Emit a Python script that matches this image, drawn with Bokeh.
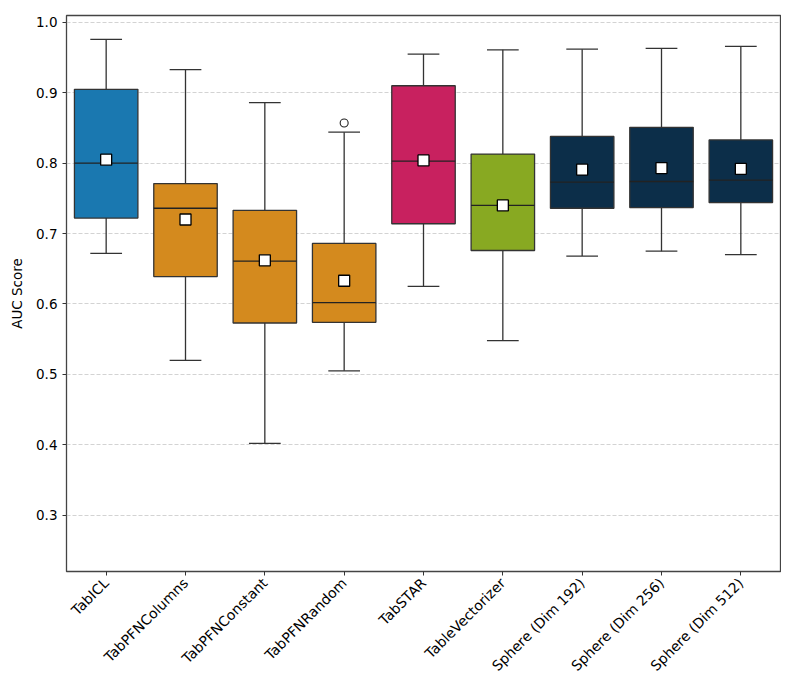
import math
from bokeh.plotting import figure
from bokeh.models import FixedTicker, ColumnDataSource
from bokeh.embed import file_html
from bokeh.resources import INLINE

categories = ["TabICL", "TabPFNColumns", "TabPFNConstant", "TabPFNRandom", "TabSTAR",
              "TableVectorizer", "Sphere (Dim 192)", "Sphere (Dim 256)", "Sphere (Dim 512)"]
lower = [0.672, 0.520, 0.402, 0.505, 0.625, 0.548, 0.668, 0.675, 0.670]
q1 = [0.722, 0.639, 0.573, 0.574, 0.714, 0.676, 0.736, 0.737, 0.744]
median = [0.800, 0.736, 0.661, 0.602, 0.803, 0.740, 0.773, 0.774, 0.776]
q3 = [0.905, 0.771, 0.733, 0.686, 0.910, 0.813, 0.838, 0.851, 0.833]
upper = [0.976, 0.933, 0.886, 0.844, 0.955, 0.961, 0.962, 0.963, 0.966]
mean = [0.805, 0.720, 0.662, 0.633, 0.804, 0.740, 0.791, 0.793, 0.792]
colors = ["#1a78b0", "#d48a1e", "#d48a1e", "#d48a1e", "#c8215f",
          "#88a922", "#0c2e49", "#0c2e49", "#0c2e49"]
outlier_cat = ["TabPFNRandom"]
outlier_val = [0.857]
y_ticks = [0.3, 0.4, 0.5, 0.6, 0.7, 0.8, 0.9, 1.0]
y_tick_labels = ["0.3", "0.4", "0.5", "0.6", "0.7", "0.8", "0.9", "1.0"]

xs = list(range(len(categories)))
src = ColumnDataSource(dict(x=xs, lower=lower, q1=q1, median=median, q3=q3,
                            upper=upper, mean=mean, color=colors,
                            x0=[v - 0.2 for v in xs], x1=[v + 0.2 for v in xs],
                            m0=[v - 0.4 for v in xs], m1=[v + 0.4 for v in xs]))

p = figure(width=781, height=682, output_backend="svg", toolbar_location=None,
           x_range=(-0.5, len(categories) - 0.5), y_range=(0.220, 1.0098),
           min_border_left=66, min_border_right=1, min_border_top=15, min_border_bottom=103)

edge = "#333333"
# whiskers
p.segment(x0="x", y0="q3", x1="x", y1="upper", source=src, line_color=edge, line_width=1.3)
p.segment(x0="x", y0="q1", x1="x", y1="lower", source=src, line_color=edge, line_width=1.3)
p.segment(x0="x0", y0="upper", x1="x1", y1="upper", source=src, line_color=edge, line_width=1.3)
p.segment(x0="x0", y0="lower", x1="x1", y1="lower", source=src, line_color=edge, line_width=1.3)
# boxes
p.vbar(x="x", width=0.8, bottom="q1", top="q3", source=src, fill_color="color",
       line_color=edge, line_width=1.3)
p.segment(x0="m0", y0="median", x1="m1", y1="median", source=src, line_color="#222222", line_width=1.3)
# means
p.scatter(x="x", y="mean", source=src, marker="square", size=11, fill_color="white",
          line_color="black", line_width=1.3)
# outliers
p.scatter(x=[categories.index(c) for c in outlier_cat], y=outlier_val, marker="circle", size=8,
          fill_color="white", line_color="#222222", line_width=1.1)

p.xgrid.grid_line_color = None
p.ygrid.grid_line_color = "#c8c8c8"
p.ygrid.grid_line_dash = "4 2"
p.ygrid.grid_line_width = 0.8
p.yaxis.ticker = FixedTicker(ticks=y_ticks)
p.yaxis.major_label_overrides = {t: l for t, l in zip(y_ticks, y_tick_labels)}
p.xaxis.ticker = FixedTicker(ticks=xs)
p.xaxis.major_label_overrides = {i: c for i, c in enumerate(categories)}
p.xaxis.major_label_orientation = math.pi / 4
p.yaxis.axis_label = "AUC Score"

for ax in (p.xaxis, p.yaxis):
    ax.axis_line_color = None
    ax.minor_tick_line_color = None
    ax.major_tick_line_color = "#333333"
    ax.major_tick_out = 4
    ax.major_tick_in = 0
    ax.major_label_text_font = "DejaVu Sans"
    ax.major_label_text_font_size = "13.5px"
    ax.major_label_text_color = "black"
    ax.axis_label_text_font = "DejaVu Sans"
    ax.axis_label_text_font_size = "13.5px"
    ax.axis_label_text_font_style = "normal"
    ax.axis_label_text_color = "black"
p.xaxis.major_label_text_font_size = "14px"
p.yaxis.axis_label_standoff = 8
p.xaxis.major_label_standoff = 5

p.outline_line_color = "#444444"
p.outline_line_width = 1.3
p.background_fill_color = "white"
p.border_fill_color = "white"

open("out.html", "w").write(file_html(p, INLINE))
